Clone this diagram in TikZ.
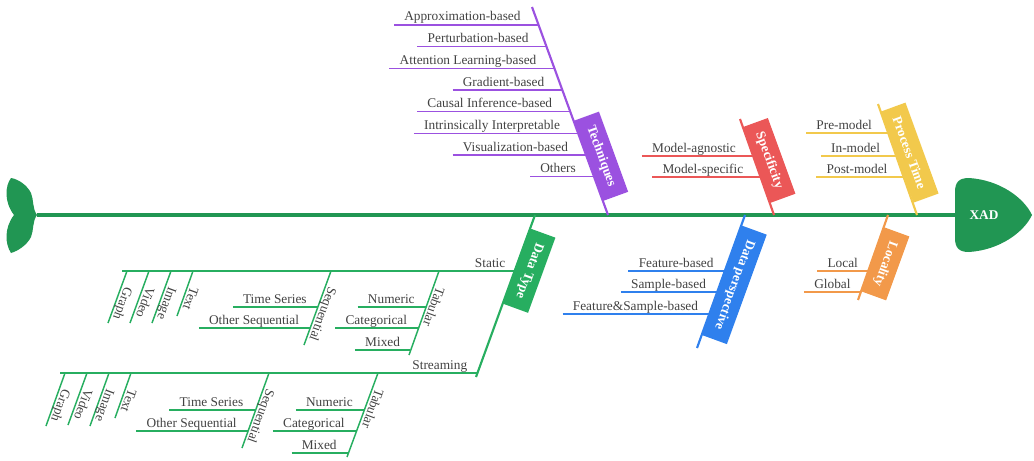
\documentclass[tikz,border=0pt]{standalone}
\usepackage{fontspec}
\setmainfont{Liberation Serif}
\definecolor{cSpine}{HTML}{219653}
\definecolor{cPurple}{HTML}{9B51E0}
\definecolor{cRed}{HTML}{EB5757}
\definecolor{cYellow}{HTML}{F2C94C}
\definecolor{cGreen}{HTML}{27AE60}
\definecolor{cBlue}{HTML}{2F80ED}
\definecolor{cOrange}{HTML}{F2994A}
\definecolor{cText}{HTML}{424242}
% horizontal branch: name, bone x, y, gap, colour, text
\newcommand{\hb}[6]{%
  \coordinate (#1b) at (#2,#3);
  \node[lbl, anchor=base east] (#1) at ([shift={(-#4,-4)}]#1b) {#6};
  \draw[branch, #5] ([xshift=-7.5pt]#1b -| #1.west) -- (#1b);}
% slanted sub-bone: name, top, bottom, colour, text
\newcommand{\sbn}[5]{%
  \coordinate (#1t) at (#2);
  \coordinate (#1e) at (#3);
  \draw[branch, #4] (#1t) -- (#1e);
  \node[lbl, rotate=-110, anchor=base west] (#1) at ([shift={(-2.3,15)}]#1t) {#5};}
\begin{document}
\begin{tikzpicture}[x=0.75pt,y=-0.75pt,
  lbl/.style={font=\fontsize{10}{12}\selectfont, text=cText, inner sep=0pt},
  branch/.style={line width=1.1pt},
  bone/.style={line width=1.6pt},
  tag/.style={rectangle, text=white, font=\bfseries\fontsize{10}{12}\selectfont,
              inner xsep=8pt, inner ysep=0pt, minimum height=20pt, anchor=south}]
\useasboundingbox (0,0) rectangle (1034,460);

% ---------- spine, tail, head ----------
\coordinate (tailj) at (37,215);
\coordinate (headj) at (956,215);
\draw[cSpine, line width=2.3pt] (tailj) -- (headj);
\fill[cSpine] (tailj) .. controls (32,208) and (34,200) .. (31,193)
  .. controls (27,185) and (18,179) .. (11,178)
  .. controls (5,186) and (4,202) .. (14,215)
  .. controls (4,228) and (5,244) .. (11,253)
  .. controls (18,251) and (27,245) .. (31,237)
  .. controls (34,230) and (32,222) .. (tailj) -- cycle;
\fill[cSpine] (955,192) .. controls (955,182) and (959,178) .. (969,178)
  .. controls (1000,180) and (1024,198) .. (1032,215)
  .. controls (1024,232) and (1000,250) .. (969,252)
  .. controls (959,252) and (955,248) .. (955,238) -- cycle;
\node[font=\bfseries\fontsize{10}{12}\selectfont, text=white] (xad) at (984,215) {XAD};

% ---------- Techniques ----------
\coordinate (T0) at (532,7); \coordinate (T1) at (608,215);
\draw[bone, cPurple] (T0) -- (T1);
\hb{ta}{538.8}{25}{18}{cPurple}{Approximation-based}
\hb{tb}{546.7}{46.7}{18}{cPurple}{Perturbation-based}
\hb{tc}{554.6}{68.3}{18}{cPurple}{Attention Learning-based}
\hb{td}{562.5}{90}{18}{cPurple}{Gradient-based}
\hb{te}{570.4}{111.7}{18}{cPurple}{Causal Inference-based}
\hb{tf}{578.3}{133.3}{18}{cPurple}{Intrinsically Interpretable}
\hb{tg}{586.2}{155}{18}{cPurple}{Visualization-based}
\hb{th}{594.1}{176.7}{18}{cPurple}{Others}
\path (T0) -- (T1) coordinate[pos=0.74] (Tm);
\node[tag, fill=cPurple, rotate=-70] (tech) at (Tm) {Techniques};

% ---------- Specificity ----------
\coordinate (S0) at (740,119); \coordinate (S1) at (774,215);
\draw[bone, cRed] (S0) -- (S1);
\hb{sa}{753.1}{156}{17}{cRed}{Model-agnostic}
\hb{sb}{760.5}{177}{17}{cRed}{Model-specific}
\path (S0) -- (S1) coordinate[pos=0.48] (Sm);
\node[tag, fill=cRed, rotate=-70] (spec) at (Sm) {Specificity};

% ---------- Process Time ----------
\coordinate (P0) at (878,104); \coordinate (P1) at (917,215);
\draw[bone, cYellow] (P0) -- (P1);
\hb{pa}{888.2}{133}{16}{cYellow}{Pre-model}
\hb{pb}{896.3}{156}{16}{cYellow}{In-model}
\hb{pc}{903.7}{177}{16}{cYellow}{Post-model}
\path (P0) -- (P1) coordinate[pos=0.48] (Pm);
\node[tag, fill=cYellow, rotate=-70] (proc) at (Pm) {Process Time};

% ---------- Data perspective ----------
\coordinate (D0) at (745,215); \coordinate (D1) at (697,348);
\draw[bone, cBlue] (D0) -- (D1);
\hb{da}{724.8}{271}{11}{cBlue}{Feature-based}
\hb{db}{717.2}{292}{11}{cBlue}{Sample-based}
\hb{dc}{709.3}{314}{11}{cBlue}{Feature\&Sample-based}
\path (D0) -- (D1) coordinate[pos=0.49] (Dm);
\node[tag, fill=cBlue, rotate=-110] (dper) at (Dm) {Data perspective};

% ---------- Locality ----------
\coordinate (L0) at (888,215); \coordinate (L1) at (858,300);
\draw[bone, cOrange] (L0) -- (L1);
\hb{la}{868.2}{271}{10}{cOrange}{Local}
\hb{lb}{860.8}{292}{10}{cOrange}{Global}
\path (L0) -- (L1) coordinate[pos=0.52] (Lm);
\node[tag, fill=cOrange, rotate=-110] (loc) at (Lm) {Locality};

% ---------- Data Type ----------
\coordinate (G0) at (535,215); \coordinate (G1) at (476,377);
\draw[bone, cGreen] (G0) -- (G1);
% Static
\coordinate (st0) at (122,271); \coordinate (st1) at (514.6,271);
\draw[branch, cGreen] (st0) -- (st1);
\node[lbl, anchor=base east] (static) at ([shift={(-9,-4)}]st1) {Static};
\sbn{sg}{127,271}{108,323}{cGreen}{Graph}
\sbn{sv}{149,271}{130,323}{cGreen}{Video}
\sbn{si}{171,271}{152,323}{cGreen}{Image}
\sbn{sx}{193,271}{177,316}{cGreen}{Text}
\sbn{ss}{331,271}{304,345}{cGreen}{Sequential}
\sbn{su}{439,271}{409,355}{cGreen}{Tabular}
\hb{ssa}{317.9}{307}{11}{cGreen}{Time Series}
\hb{ssb}{310.3}{328}{11}{cGreen}{Other Sequential}
\hb{sua}{425.9}{307}{11}{cGreen}{Numeric}
\hb{sub}{418.3}{328}{11}{cGreen}{Categorical}
\hb{suc}{410.3}{350}{10}{cGreen}{Mixed}
% Streaming
\coordinate (sm0) at (60,373); \coordinate (sm1) at (477.5,373);
\draw[branch, cGreen] (sm0) -- (sm1);
\node[lbl, anchor=base east] (stream) at ([shift={(-10,-4)}]sm1) {Streaming};
\sbn{mg}{65,373}{46,426}{cGreen}{Graph}
\sbn{mv}{87,373}{68,425}{cGreen}{Video}
\sbn{mi}{109,373}{90,426}{cGreen}{Image}
\sbn{mx}{131,373}{115,418}{cGreen}{Text}
\sbn{ms}{269,373}{242,448}{cGreen}{Sequential}
\sbn{mu}{378,373}{347,457}{cGreen}{Tabular}
\hb{msa}{255.5}{410}{12}{cGreen}{Time Series}
\hb{msb}{247.9}{431}{11}{cGreen}{Other Sequential}
\hb{mua}{364.5}{410}{11.5}{cGreen}{Numeric}
\hb{mub}{356.9}{431}{12}{cGreen}{Categorical}
\hb{muc}{348.9}{453}{12}{cGreen}{Mixed}
\path (G0) -- (G1) coordinate[pos=0.315] (Gm);
\node[tag, fill=cGreen, rotate=-110] (dtype) at (Gm) {Data Type};
\end{tikzpicture}
\end{document}
